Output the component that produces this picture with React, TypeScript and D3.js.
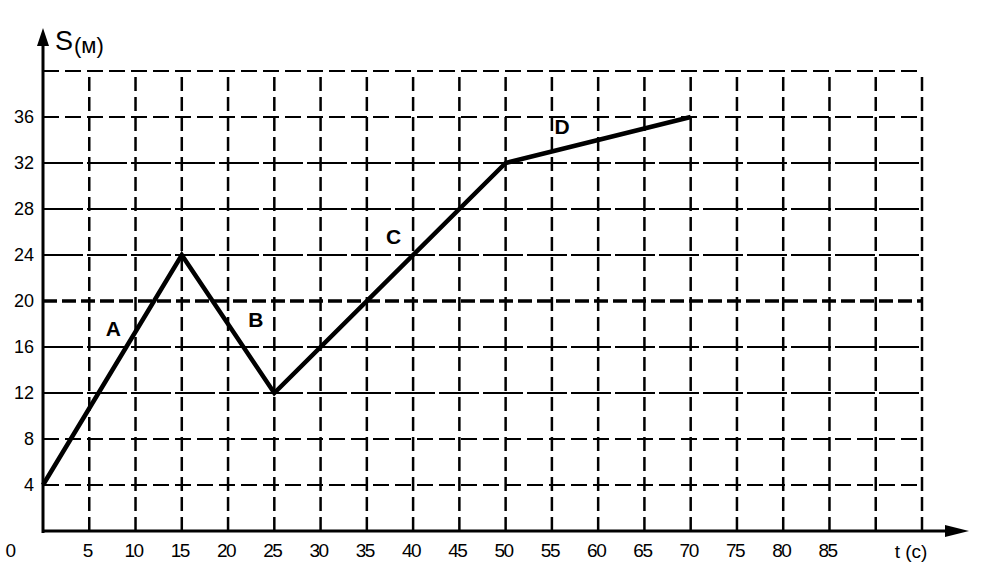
import React from "react";
import * as d3 from "d3";

const times = [0, 15, 25, 50, 70];
const distances = [4, 24, 12, 32, 36];
const xTicks = [0, 5, 10, 15, 20, 25, 30, 35, 40, 45, 50, 55, 60, 65, 70, 75, 80, 85];
const xGrid = [5, 10, 15, 20, 25, 30, 35, 40, 45, 50, 55, 60, 65, 70, 75, 80, 85, 90, 95];
const yTicks = [4, 8, 12, 16, 20, 24, 28, 32, 36];
const yGrid = [4, 8, 12, 16, 20, 24, 28, 32, 36, 40];
const solidRows = [12, 16, 24, 28, 32];
const thickRows = [20];
const segLabels = ["A", "B", "C", "D"];
const labelT = [7.6, 23.0, 37.9, 56.1];
const labelS = [17.6, 18.4, 25.6, 35.2];

const W = 996;
const H = 576;

export default function App() {
  const x = d3.scaleLinear().domain([0, 95]).range([43, 922]);
  const y = d3.scaleLinear().domain([0, 40]).range([531, 71]);
  const line = d3
    .line<number>()
    .x((_, i) => x(times[i]))
    .y((d) => y(d));
  const font = "'Liberation Sans', Arial, sans-serif";

  return (
    <svg
      width={W}
      height={H}
      style={{ position: "absolute", left: 0, top: 0, background: "#fff" }}
    >
      <rect width={W} height={H} fill="#fff" />
      {/* vertical grid */}
      {xGrid.map((t) => (
        <line
          key={"vx" + t}
          x1={x(t)}
          x2={x(t)}
          y1={y(0)}
          y2={y(40)}
          stroke="#000"
          strokeWidth={2.5}
          strokeDasharray="14,6"
        />
      ))}
      {/* horizontal grid */}
      {yGrid.map((s) => {
        const thick = thickRows.includes(s);
        const solid = solidRows.includes(s);
        return (
          <line
            key={"hy" + s}
            x1={x(0)}
            x2={x(95)}
            y1={y(s)}
            y2={y(s)}
            stroke="#000"
            strokeWidth={thick ? 3.5 : 2}
            strokeDasharray={thick ? "14,5" : solid ? "40,4" : "16,6"}
          />
        );
      })}
      {/* axes */}
      <line x1={x(0)} x2={952} y1={y(0)} y2={y(0)} stroke="#000" strokeWidth={3} />
      <path d={`M945,${y(0) - 6} L969,${y(0)} L945,${y(0) + 6} Z`} fill="#000" />
      <line x1={x(0)} x2={x(0)} y1={y(0) + 2} y2={40} stroke="#000" strokeWidth={3} />
      <path d={`M${x(0) - 6},46 L${x(0)},28 L${x(0) + 6},46 Z`} fill="#000" />
      {/* data line */}
      <path
        d={line(distances) || ""}
        fill="none"
        stroke="#000"
        strokeWidth={4.5}
        strokeLinejoin="miter"
      />
      {/* segment labels */}
      {segLabels.map((l, i) => (
        <text
          key={l}
          x={x(labelT[i])}
          y={y(labelS[i])}
          textAnchor="middle"
          dominantBaseline="central"
          fontFamily={font}
          fontSize={21}
          fontWeight="bold"
        >
          {l}
        </text>
      ))}
      {/* x tick labels */}
      {xTicks.map((t) => (
        <text
          key={"xt" + t}
          x={t === 0 ? 10 : x(t) - 2}
          y={557}
          textAnchor="middle"
          fontFamily={font}
          fontSize={19}
          letterSpacing={-1.5}
        >
          {t}
        </text>
      ))}
      <text x={911} y={558} textAnchor="middle" fontFamily={font} fontSize={19}>
        t (c)
      </text>
      {/* y tick labels */}
      {yTicks.map((s) => (
        <text
          key={"yt" + s}
          x={34}
          y={y(s)}
          textAnchor="end"
          dominantBaseline="central"
          fontFamily={font}
          fontSize={18}
        >
          {s}
        </text>
      ))}
      <text x={55} y={50} fontFamily={font} fontSize={27}>
        S
        <tspan fontSize={22} dx={1} dy={3}>
          (м)
        </tspan>
      </text>
    </svg>
  );
}
